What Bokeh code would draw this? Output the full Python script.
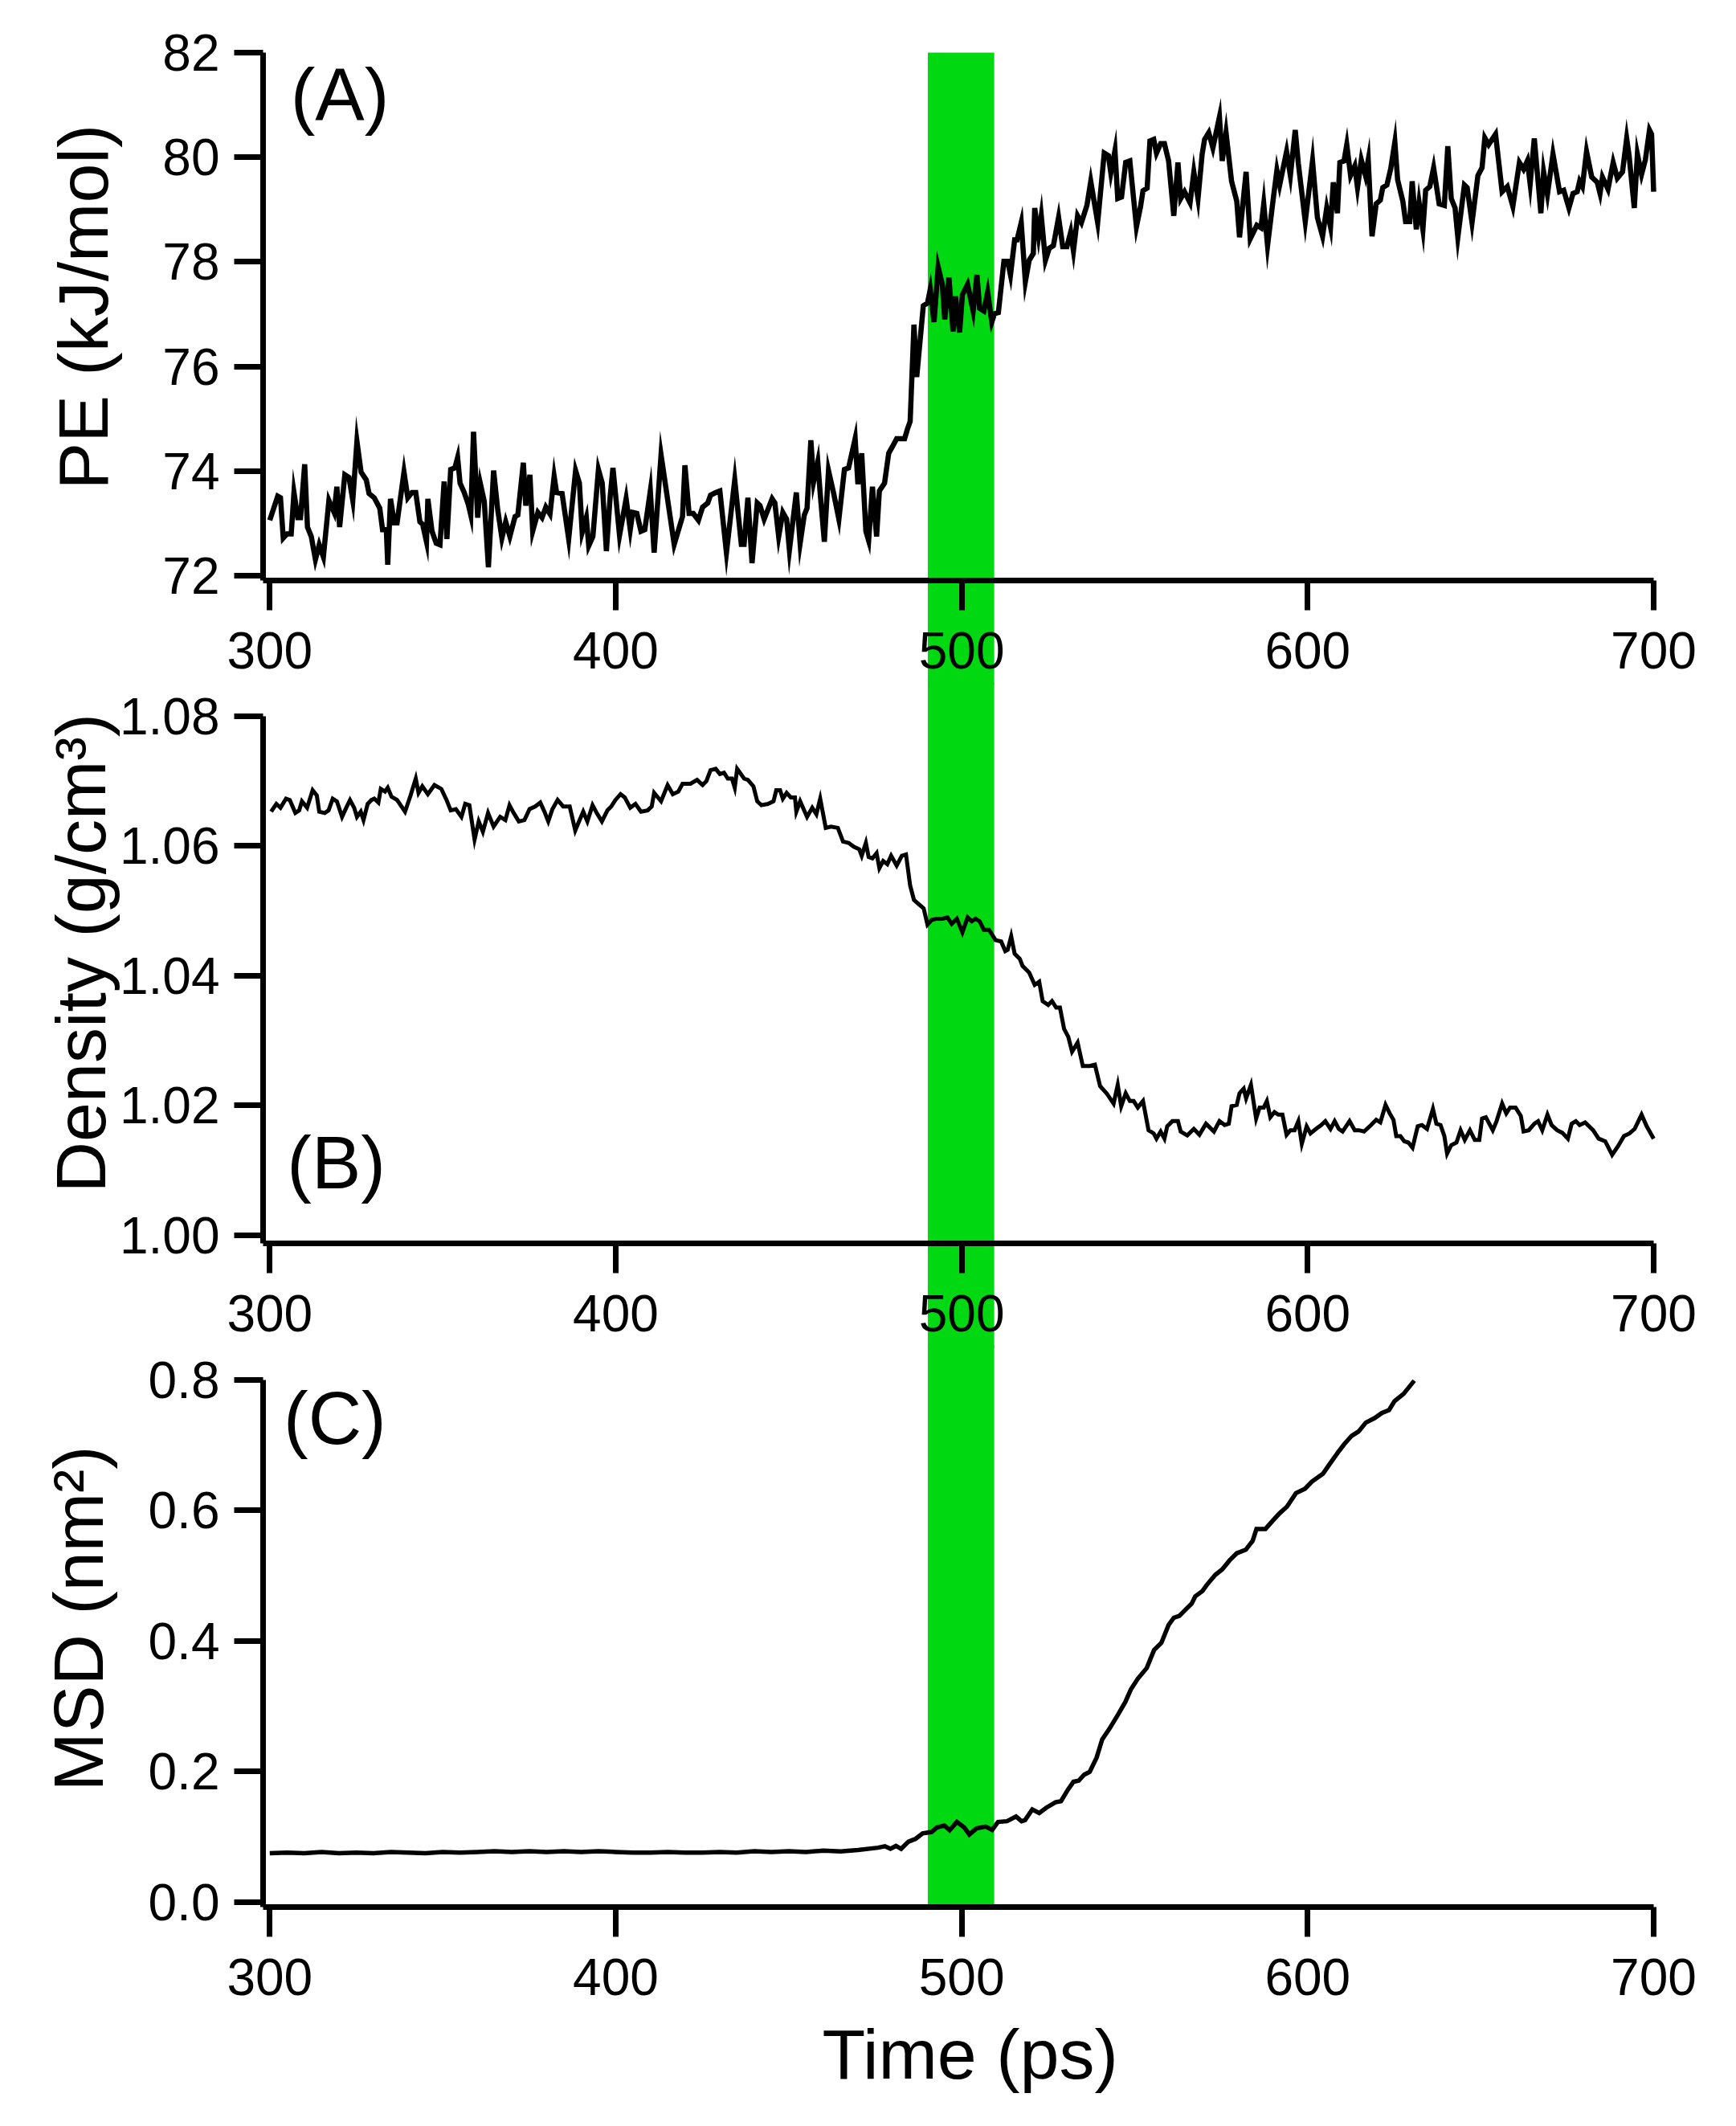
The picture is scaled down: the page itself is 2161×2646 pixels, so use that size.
from bokeh.plotting import figure
from bokeh.layouts import column
from bokeh.models import FixedTicker, BoxAnnotation, Label, Range1d, PrintfTickFormatter, Title
from bokeh.embed import file_html
from bokeh.resources import INLINE

# ---------------- data ----------------
X_TICKS = [300, 400, 500, 600, 700]
X_TICK_LABELS = ["300", "400", "500", "600", "700"]
PE_TICKS = [72, 74, 76, 78, 80, 82]
PE_TICK_LABELS = ["72", "74", "76", "78", "80", "82"]
DEN_TICKS = [1.00, 1.02, 1.04, 1.06, 1.08]
DEN_TICK_LABELS = ["1.00", "1.02", "1.04", "1.06", "1.08"]
MSD_TICKS = [0.0, 0.2, 0.4, 0.6, 0.8]
MSD_TICK_LABELS = ["0.0", "0.2", "0.4", "0.6", "0.8"]
BAND_START = 490.2
BAND_END = 509.4
PANEL_LABELS = ["(A)", "(B)", "(C)"]
Y_LABELS = ["PE (kJ/mol)", "Density (g/cm³)", "MSD (nm²)"]
X_LABEL = "Time (ps)"

PE_T = [300.0, 302.3, 303.1, 303.9, 305.0, 306.2, 307.0, 308.1, 308.9, 310.1, 310.9, 312.0, 313.2, 314.3,
        315.5, 317.1, 318.6, 319.4, 320.2, 321.7, 322.9, 324.0, 325.2, 326.4, 327.9, 328.7, 330.2, 331.8,
        332.6, 333.7, 334.1, 334.9, 336.0, 336.8, 338.8, 339.9, 341.1, 342.2, 343.4, 344.2, 345.3, 345.7,
        346.9, 348.1, 349.2, 350.4, 351.2, 352.3, 353.5, 354.3, 355.0, 356.2, 357.4, 358.1, 358.9, 360.1,
        360.9, 362.0, 363.2, 364.7, 365.9, 367.1, 368.2, 369.4, 370.9, 371.7, 373.3, 374.0, 375.2, 376.0,
        377.5, 378.7, 379.8, 381.0, 382.2, 382.9, 384.5, 386.4, 388.4, 389.5, 390.3, 391.5, 392.2, 393.4,
        395.0, 396.1, 397.3, 398.4, 399.2,
        401.1, 403.0, 404.2, 404.9, 406.1, 407.3, 408.4, 410.0, 411.1, 413.1, 416.9, 419.3, 420.0, 421.2,
        422.4, 423.9, 425.1, 426.6, 427.4, 428.9, 430.1, 432.0, 434.4, 436.3, 437.1, 438.2, 439.4, 440.9,
        441.7, 442.9, 445.2, 446.0, 447.1, 448.3, 449.4, 450.2, 452.2, 453.3, 454.5, 455.3, 456.4, 457.2,
        458.4, 459.1, 460.3, 461.5, 463.0, 464.5, 466.1, 467.3, 469.2, 470.0, 471.1, 472.3, 473.1, 474.2,
        475.4, 476.2, 477.7, 478.9, 480.0, 481.2, 483.5, 484.3,
        485.1, 486.2, 487.0, 488.9, 490.1, 490.9, 492.0, 493.2, 494.4, 495.1, 496.3, 497.5, 498.2, 499.4,
        500.2, 501.7, 503.3, 504.4, 505.2, 506.4, 507.5, 508.7, 509.5, 510.6, 512.2, 513.3, 514.1, 515.3,
        516.0, 517.2, 518.4, 519.5, 520.7, 521.1, 522.2, 523.0, 524.2, 525.3, 526.5, 528.0, 529.2, 530.4,
        531.5, 532.3, 533.5, 534.6, 536.2, 537.3, 539.3, 541.2, 542.4, 543.1, 544.3, 545.1, 546.2, 547.4,
        548.6, 550.5, 551.7, 552.4, 553.6, 554.4, 555.5, 556.3, 557.5, 558.6, 559.8, 561.3, 562.5, 563.3,
        564.4, 566.0, 567.1, 568.3, 569.5, 570.2, 571.4, 572.6, 574.5, 575.3, 576.4, 578.0, 579.5, 580.3,
        582.2, 583.4, 585.3, 586.5, 587.3, 588.4, 590.0, 591.1,
        591.9, 593.9, 595.0, 596.4, 597.3, 599.3, 601.4, 602.8, 604.3, 605.5, 606.6, 607.4, 608.6, 609.3,
        610.5, 611.3, 612.4, 613.6, 614.4, 615.5, 616.7, 617.5, 618.6, 619.8, 621.0, 621.7, 622.9, 624.0,
        625.2, 626.0, 627.5, 628.3, 629.5, 630.2, 631.4, 632.2, 633.3, 634.1, 635.3, 636.4, 638.0, 639.5,
        640.5, 641.5, 642.6, 643.4, 645.3, 646.1, 647.5, 649.2, 650.4, 651.2, 652.3, 654.3, 656.2, 657.7,
        659.3, 661.2, 662.4, 663.5, 664.3, 665.5, 667.4, 668.2, 669.3, 670.9, 672.8, 674.0, 675.5, 676.7,
        677.9, 678.6, 679.4, 680.6, 682.1, 683.7, 684.5, 685.2, 686.8, 688.3, 689.5, 691.0, 692.2, 692.9,
        694.4, 695.3, 696.5, 697.6, 698.8, 699.4, 700.0]
PE_V = [73.06, 73.52, 73.49, 72.72, 72.80, 72.80, 73.59, 73.11, 73.11, 74.13, 72.93, 72.75, 72.31, 72.59,
        72.36, 73.44, 73.21, 73.70, 72.93, 73.93, 73.88, 73.44, 74.57, 73.98, 73.83, 73.57, 73.49, 73.29,
        72.88, 72.88, 72.21, 73.47, 73.01, 73.01, 73.98, 73.49, 73.59, 73.59, 73.03, 72.98, 72.65, 73.47,
        72.85, 72.62, 72.59, 73.80, 72.70, 74.03, 74.06, 74.26, 73.77, 73.59, 73.36, 73.16, 74.75, 73.11,
        73.75, 73.42, 72.16, 74.01, 73.26, 72.72, 73.03, 72.75, 73.13, 73.16, 74.16, 73.34, 73.93, 72.85,
        73.21, 73.11, 73.31, 73.18, 73.90, 73.59, 73.57, 72.70, 74.01, 73.77, 72.83, 73.11, 72.57, 72.75,
        74.03, 73.77, 72.47, 73.52, 74.06,
        72.77, 73.47, 72.88, 73.21, 73.19, 72.85, 72.88, 73.62, 72.44, 74.31, 72.60, 73.13, 74.11, 73.19,
        73.19, 73.06, 73.31, 73.39, 73.54, 73.59, 73.62, 72.44, 73.83, 72.60, 72.60, 73.49, 72.24, 73.39,
        73.34, 73.08, 73.47, 73.39, 72.75, 73.21, 73.08, 72.49, 73.59, 72.62, 73.16, 73.29, 74.59, 73.80,
        74.18, 73.57, 72.65, 74.01, 73.57, 73.08, 74.03, 74.06, 74.62, 73.75, 74.34, 72.85, 72.67, 73.70,
        72.75, 73.62, 73.77, 74.34, 74.47, 74.62, 74.62, 74.80,
        74.95, 76.80, 75.80, 77.16, 77.21, 77.47, 76.85, 77.90, 77.57, 76.90, 77.70, 76.67, 77.34, 76.65,
        77.37, 77.57, 77.06, 77.75, 77.11, 77.06, 77.42, 76.85, 77.01, 77.03, 78.01, 78.01, 77.75, 78.42,
        78.42, 78.75, 77.62, 78.03, 78.16, 79.03, 78.49, 78.88, 78.03, 78.26, 78.31, 78.85, 78.29, 78.29,
        78.57, 78.21, 78.88, 78.75, 79.08, 79.54, 78.75, 80.08, 80.03, 79.70, 80.13, 79.21, 79.24, 79.90,
        79.93, 78.67, 79.06, 79.36, 79.41, 80.31, 80.34, 80.08, 80.26, 80.26, 79.93, 78.88, 79.90, 79.21,
        79.34, 79.13, 79.72, 79.21, 80.06, 80.34, 80.47, 80.18, 80.77, 79.93, 80.47, 79.54, 79.16, 78.47,
        79.72, 78.44, 78.70, 78.65, 79.11, 78.31, 79.18, 79.75,
        79.47, 80.11, 79.65, 80.52, 79.88, 78.77, 79.93, 78.85, 78.49, 79.03, 78.67, 79.52, 78.93, 79.90,
        79.93, 80.24, 79.65, 79.83, 79.42, 79.95, 79.65, 79.95, 78.49, 79.11, 79.18, 79.42, 79.47, 79.78,
        80.29, 79.57, 79.16, 78.77, 78.77, 79.54, 78.62, 79.13, 78.62, 79.37, 79.44, 79.80, 79.11, 79.08,
        80.21, 79.21, 79.03, 78.47, 79.47, 79.42, 78.75, 79.65, 79.80, 80.37, 80.24, 80.44, 79.34, 79.44,
        79.06, 79.90, 79.77, 79.93, 79.49, 80.36, 78.93, 79.72, 79.29, 80.06, 79.34, 79.37, 79.03, 79.31,
        79.34, 79.54, 79.44, 80.11, 79.62, 79.52, 79.31, 79.62, 79.39, 79.90, 79.60, 79.72, 80.36, 80.03,
        79.03, 80.06, 79.67, 79.95, 80.52, 80.44, 79.34]

DEN_T = [300.4, 301.9, 303.1, 304.7, 305.8, 307.4, 308.5, 309.3, 310.8, 312.4, 313.6, 314.3, 315.9, 317.0,
         318.2, 319.4, 320.9, 322.1, 323.2, 324.4, 325.2, 326.3, 327.1, 328.3, 329.4, 330.2, 331.4, 332.1,
         333.3, 334.1, 335.2, 336.8, 339.1, 340.7, 342.2, 343.0, 344.1, 345.7, 347.6, 349.6, 351.1, 352.3,
         353.8, 355.4, 356.5, 357.7, 359.2, 360.4, 361.6, 363.1, 364.7, 366.6, 368.1, 369.3, 370.5, 372.0,
         373.6, 375.1, 376.7, 378.2, 379.4, 380.5, 381.7, 383.2, 384.8, 386.7, 388.3, 389.4, 390.6, 391.8,
         393.3, 394.5, 396.0, 397.6, 398.7,
         399.9, 401.4, 402.6, 404.2, 405.7, 407.3, 409.2, 410.4, 411.1, 413.1, 415.0, 416.5, 418.1, 419.3,
         421.6, 423.5, 425.1, 426.2, 427.4, 428.9, 430.1, 431.3, 432.4, 433.6, 434.4, 435.1, 437.1, 438.2,
         439.8, 440.9, 442.1, 444.0, 445.6, 446.4, 447.5, 448.3, 449.4, 450.6, 451.8, 452.2, 453.3, 455.3,
         456.8, 458.0, 459.1, 460.7, 462.2, 464.2, 465.7, 467.3, 468.8, 470.4, 471.1, 472.3, 473.1, 474.2,
         475.4, 476.2, 477.3, 478.5, 479.6, 481.2, 482.7, 483.9, 485.1, 486.2, 489.0, 490.1, 491.3, 492.8,
         494.4, 495.9, 497.1, 498.6, 500.2, 501.7, 502.9, 504.0, 505.2, 506.4, 507.9, 509.8, 511.4, 512.6,
         513.3, 514.3, 515.3, 516.8, 517.6, 519.5, 521.1, 522.4, 523.4, 525.0, 526.1, 527.3, 528.4, 529.6,
         530.8, 531.9, 533.5, 535.0, 537.0, 538.5, 540.0, 542.0, 543.9, 545.1, 546.1, 547.4, 548.6, 549.7,
         550.9, 552.4, 554.0, 555.5, 556.3, 557.5, 558.6, 559.4, 560.9, 562.5, 563.3, 565.2, 567.1, 568.7,
         570.6, 572.9, 574.5, 576.0, 577.2, 578.0, 579.5, 580.3, 581.5, 582.2, 583.6, 585.1, 586.1, 587.3,
         588.2, 589.2, 590.4, 591.5, 592.7, 593.9, 595.0, 596.2,
         597.3, 598.3, 599.7, 600.8, 602.4, 603.9, 605.1, 606.6, 607.8, 609.0, 610.1, 612.1, 613.6, 614.8,
         616.3, 618.3, 619.8, 621.0, 622.5, 623.7, 624.8, 625.6, 626.8, 627.9, 629.1, 630.3, 631.8, 633.0,
         634.5, 636.2, 637.2, 638.4, 639.5, 640.3, 641.5, 643.0, 644.2, 645.4, 646.9, 648.3, 649.6, 650.4,
         651.5, 653.5, 654.6, 656.2, 657.4, 658.5, 660.1, 661.6, 662.4, 663.9, 665.5, 666.6, 667.8, 669.3,
         670.5, 672.1, 673.6, 675.2, 676.3, 677.5, 678.6, 680.2, 682.5, 684.1, 686.0, 688.0, 689.9, 691.4,
         693.0, 694.5, 696.5, 698.0, 700.0]
DEN_V = [1.0653, 1.0665, 1.0659, 1.0673, 1.0671, 1.0651, 1.0655, 1.0669, 1.0659, 1.0686, 1.0678, 1.0653,
         1.0651, 1.0655, 1.0673, 1.0669, 1.0645, 1.0659, 1.0671, 1.0659, 1.0645, 1.0653, 1.0640, 1.0665,
         1.0671, 1.0673, 1.0667, 1.0688, 1.0684, 1.0690, 1.0676, 1.0671, 1.0653, 1.0678, 1.0704, 1.0682,
         1.0692, 1.0680, 1.0694, 1.0688, 1.0671, 1.0655, 1.0657, 1.0645, 1.0665, 1.0663, 1.0610, 1.0638,
         1.0622, 1.0651, 1.0630, 1.0645, 1.0640, 1.0663, 1.0651, 1.0638, 1.0640, 1.0657, 1.0661, 1.0667,
         1.0653, 1.0638, 1.0657, 1.0671, 1.0661, 1.0661, 1.0624, 1.0638, 1.0653, 1.0638, 1.0663, 1.0651,
         1.0638, 1.0655, 1.0661,
         1.0671, 1.0680, 1.0675, 1.0659, 1.0665, 1.0653, 1.0655, 1.0661, 1.0682, 1.0669, 1.0694, 1.0680,
         1.0684, 1.0696, 1.0696, 1.0702, 1.0694, 1.0700, 1.0717, 1.0719, 1.0711, 1.0713, 1.0704, 1.0704,
         1.0690, 1.0719, 1.0704, 1.0702, 1.0692, 1.0669, 1.0663, 1.0665, 1.0669, 1.0686, 1.0686, 1.0673,
         1.0682, 1.0675, 1.0675, 1.0653, 1.0669, 1.0645, 1.0659, 1.0649, 1.0673, 1.0628, 1.0630, 1.0628,
         1.0607, 1.0605, 1.0599, 1.0595, 1.0585, 1.0605, 1.0583, 1.0581, 1.0589, 1.0566, 1.0577, 1.0572,
         1.0585, 1.0570, 1.0585, 1.0587, 1.0539, 1.0517, 1.0504, 1.0479, 1.0486, 1.0488,
         1.0488, 1.0490, 1.0480, 1.0488, 1.0467, 1.0490, 1.0484, 1.0488, 1.0484, 1.0471, 1.0471, 1.0455,
         1.0453, 1.0438, 1.0440, 1.0461, 1.0434, 1.0426, 1.0415, 1.0405, 1.0386, 1.0391, 1.0361, 1.0355,
         1.0361, 1.0351, 1.0351, 1.0318, 1.0306, 1.0283, 1.0297, 1.0261, 1.0261, 1.0263, 1.0230, 1.0218,
         1.0203, 1.0232, 1.0199, 1.0219, 1.0207, 1.0207, 1.0197, 1.0207, 1.0162, 1.0157, 1.0149, 1.0160,
         1.0149, 1.0168, 1.0176, 1.0176, 1.0160, 1.0154, 1.0164, 1.0155, 1.0172, 1.0160, 1.0176, 1.0170,
         1.0172, 1.0199, 1.0201, 1.0219, 1.0226, 1.0211, 1.0232, 1.0180, 1.0197, 1.0197, 1.0207, 1.0182,
         1.0190, 1.0186, 1.0186, 1.0155, 1.0162, 1.0162,
         1.0176, 1.0141, 1.0168, 1.0157, 1.0164, 1.0170, 1.0176, 1.0164, 1.0176, 1.0164, 1.0160, 1.0176,
         1.0162, 1.0162, 1.0160, 1.0170, 1.0178, 1.0174, 1.0201, 1.0188, 1.0178, 1.0153, 1.0153, 1.0145,
         1.0143, 1.0135, 1.0168, 1.0170, 1.0164, 1.0195, 1.0172, 1.0170, 1.0153, 1.0126, 1.0139, 1.0143,
         1.0162, 1.0147, 1.0162, 1.0147, 1.0147, 1.0180, 1.0182, 1.0162, 1.0176, 1.0203, 1.0188, 1.0197,
         1.0197, 1.0184, 1.0160, 1.0162, 1.0172, 1.0176, 1.0162, 1.0186, 1.0170, 1.0162, 1.0158, 1.0149,
         1.0172, 1.0176, 1.0170, 1.0174, 1.0162, 1.0149, 1.0145, 1.0124, 1.0139, 1.0153, 1.0157, 1.0164,
         1.0186, 1.0168, 1.0149]

MSD_T = [300, 305, 310, 315, 320, 325, 330, 335, 340, 345, 350, 355, 360, 365, 370, 375, 380, 385, 390,
         395, 400, 405, 410, 415, 420, 425, 430, 435, 440, 445, 450, 455, 460, 465, 470,
         475.8, 477.8, 479.4, 481.0, 482.5, 484.6, 486.7, 488.7, 491.3, 492.9, 495.0, 496.5, 498.6, 500.7,
         502.2, 504.3, 506.9, 508.8, 510.5, 513.1, 515.7, 517.3, 518.3, 520.4, 522.4, 524.5, 527.1, 528.7,
         530.7, 532.3, 533.8, 535.4, 537.0, 539.0, 540.6, 542.7, 545.2, 547.3, 548.9, 550.9, 553.5, 555.6,
         557.7, 559.8, 561.3, 562.9, 564.4, 566.5, 567.5, 569.6, 570.7, 573.3, 575.3, 577.4, 579.5, 582.1,
         584.1, 585.2, 587.8, 589.8, 591.9, 594.0, 596.6, 599.2, 601.2, 604.4, 606.4, 609.0, 610.6, 612.7,
         614.7, 616.8, 619.4, 621.5, 623.5, 625.1, 627.7, 630.8]
MSD_V = [0.075, 0.076, 0.075, 0.077, 0.075, 0.076, 0.075, 0.077, 0.076, 0.075, 0.077, 0.076, 0.077, 0.078,
         0.077, 0.078, 0.077, 0.078, 0.077, 0.078, 0.077, 0.076, 0.076, 0.077, 0.076, 0.076, 0.077, 0.076,
         0.078, 0.077, 0.078, 0.077, 0.079, 0.078, 0.080,
         0.0835, 0.0857, 0.0818, 0.0862, 0.0818, 0.0928, 0.0972, 0.1054, 0.1076, 0.1148, 0.1175, 0.1104,
         0.1230, 0.1148, 0.1038, 0.1131, 0.1159, 0.1109, 0.1230, 0.1241, 0.1312, 0.1241, 0.1257, 0.1422,
         0.1367, 0.1449, 0.1532, 0.1548, 0.1724, 0.1845, 0.1861, 0.1954, 0.1998, 0.2217, 0.2492, 0.2657,
         0.2876, 0.3068, 0.3260, 0.3424, 0.3589, 0.3863, 0.3973, 0.4247, 0.4357, 0.4385, 0.4467, 0.4577,
         0.4686, 0.4768, 0.4851, 0.5015, 0.5098, 0.5235, 0.5345, 0.5399, 0.5537, 0.5718, 0.5718, 0.5838,
         0.5959, 0.6058, 0.6266, 0.6332, 0.6442, 0.6562, 0.6716, 0.6908, 0.7018, 0.7144, 0.7210, 0.7347,
         0.7418, 0.7495, 0.7539, 0.7676, 0.7786, 0.7989]

# ---------------- styling / layout ----------------
FONT = "Liberation Sans"
GREEN = "#00d912"
FRAME_LEFT = 160            # page x of the (common) plot frames
FRAME_RIGHT = 2130
TOTAL_W = 2130
X_AXIS_START = 298.07       # where the y axes stand (page x = 335)
OVERLAP = 3                 # panels overlap slightly so the green band has no seam

# one shared horizontal scale: 300 ps at page x 343.3, 4.3068 px per ps
x_range = Range1d(257.44, 714.86)


def style_axis(ax):
    ax.axis_line_width = 7
    ax.axis_line_color = "black"
    ax.major_tick_line_width = 7
    ax.major_tick_line_color = "black"
    ax.major_tick_in = 0
    ax.minor_tick_in = 0
    ax.minor_tick_out = 0
    ax.major_label_text_font = FONT
    ax.major_label_text_font_size = "64px"
    ax.major_label_text_color = "black"


def make_panel(frame_h, b_top, b_bottom, y_range, ticks, tick_labels, fmt, ybounds,
               ylabel, title_standoff, title_offset, x_fixed, overlap=0):
    p = figure(frame_width=FRAME_RIGHT - FRAME_LEFT, frame_height=frame_h,
               x_range=x_range, y_range=y_range,
               output_backend="svg", toolbar_location=None,
               title=ylabel, title_location="left",
               min_border_left=FRAME_LEFT - 8, min_border_right=TOTAL_W - (FRAME_RIGHT - 8),
               min_border_top=b_top, min_border_bottom=b_bottom)
    p.outline_line_color = None
    p.xgrid.visible = False
    p.ygrid.visible = False
    if overlap:
        p.margin = (-overlap, 0, 0, 0)
        p.background_fill_alpha = 0
        p.border_fill_alpha = 0
    else:
        p.background_fill_color = "white"
        p.border_fill_color = "white"

    # y-axis title (left title so it can be positioned along the axis)
    p.title.text_font = FONT
    p.title.text_font_size = "88px"
    p.title.text_font_style = "normal"
    p.title.text_color = "black"
    p.title.align = "left"
    p.title.standoff = title_standoff
    p.title.offset = title_offset

    xa = p.xaxis[0]
    ya = p.yaxis[0]
    style_axis(xa)
    style_axis(ya)

    xa.fixed_location = x_fixed
    xa.ticker = FixedTicker(ticks=X_TICKS)
    xa.formatter = PrintfTickFormatter(format="%d")
    xa.major_label_overrides = dict(zip(X_TICKS, X_TICK_LABELS))
    xa.major_tick_out = 37
    xa.major_label_standoff = 28
    xa.bounds = (X_AXIS_START, 700)

    ya.fixed_location = X_AXIS_START
    ya.ticker = FixedTicker(ticks=ticks)
    ya.formatter = PrintfTickFormatter(format=fmt)
    ya.major_label_overrides = dict(zip(ticks, tick_labels))
    ya.major_tick_out = 36
    ya.major_label_standoff = 18
    ya.bounds = ybounds
    return p


# Panel A : frame page y 30..860 ; 82 at y=73, 65.1 px per kJ/mol
pA = make_panel(830, 22, 0, Range1d(69.911, 82.6605), PE_TICKS, PE_TICK_LABELS, "%d",
                (71.908, 82), Y_LABELS[0], 0, 243, 71.908)
pA.add_layout(BoxAnnotation(left=BAND_START, right=BAND_END, top=82, bottom=60,
                            fill_color=GREEN, fill_alpha=1.0, line_color=None, level="underlay"))
pA.line(PE_T, PE_V, line_color="black", line_width=6.5, line_join="miter")
pA.add_layout(Label(x=306.0, y=81.19, text=PANEL_LABELS[0], text_font=FONT, text_font_size="92px",
                    text_align="left", text_baseline="middle", text_color="black"))

# Panel B : frame page y 857..1685 ; 1.08 at y=899, 8075 px per g/cm3
pB = make_panel(828, 0, 0, Range1d(0.98266, 1.0852012), DEN_TICKS, DEN_TICK_LABELS, "%.2f",
                (0.998762, 1.08), Y_LABELS[1], 6, 193, 0.998762, overlap=OVERLAP)
pB.add_layout(BoxAnnotation(left=BAND_START, right=BAND_END, top=1.2, bottom=0.9,
                            fill_color=GREEN, fill_alpha=1.0, line_color=None, level="underlay"))
pB.line(DEN_T, DEN_V, line_color="black", line_width=5, line_join="miter")
pB.add_layout(Label(x=305.0, y=1.0112, text=PANEL_LABELS[1], text_font=FONT, text_font_size="92px",
                    text_align="left", text_baseline="middle", text_color="black"))

# Panel C : frame page y 1682..2503 ; 0.8 at y=1725, 0.0 at 2375, axis line at 2381
pC = make_panel(821, 0, 100, Range1d(-0.15754, 0.852923), MSD_TICKS, MSD_TICK_LABELS, "%.1f",
                (-0.00738, 0.8), Y_LABELS[2], 12, 266, -0.00738, overlap=OVERLAP)
pC.add_layout(BoxAnnotation(left=BAND_START, right=BAND_END, top=2.0, bottom=-0.00738,
                            fill_color=GREEN, fill_alpha=1.0, line_color=None, level="underlay"))
pC.line(MSD_T, MSD_V, line_color="black", line_width=5.5, line_join="miter")
pC.add_layout(Label(x=304.0, y=0.7415, text=PANEL_LABELS[2], text_font=FONT, text_font_size="92px",
                    text_align="left", text_baseline="middle", text_color="black"))
pC.add_layout(Title(text=X_LABEL, text_font=FONT, text_font_size="88px", text_font_style="normal",
                    text_color="black", align="left", offset=871, standoff=18), "below")

layout = column(pA, pB, pC, spacing=0)

with open("out.html", "w") as f:
    f.write(file_html(layout, INLINE))
